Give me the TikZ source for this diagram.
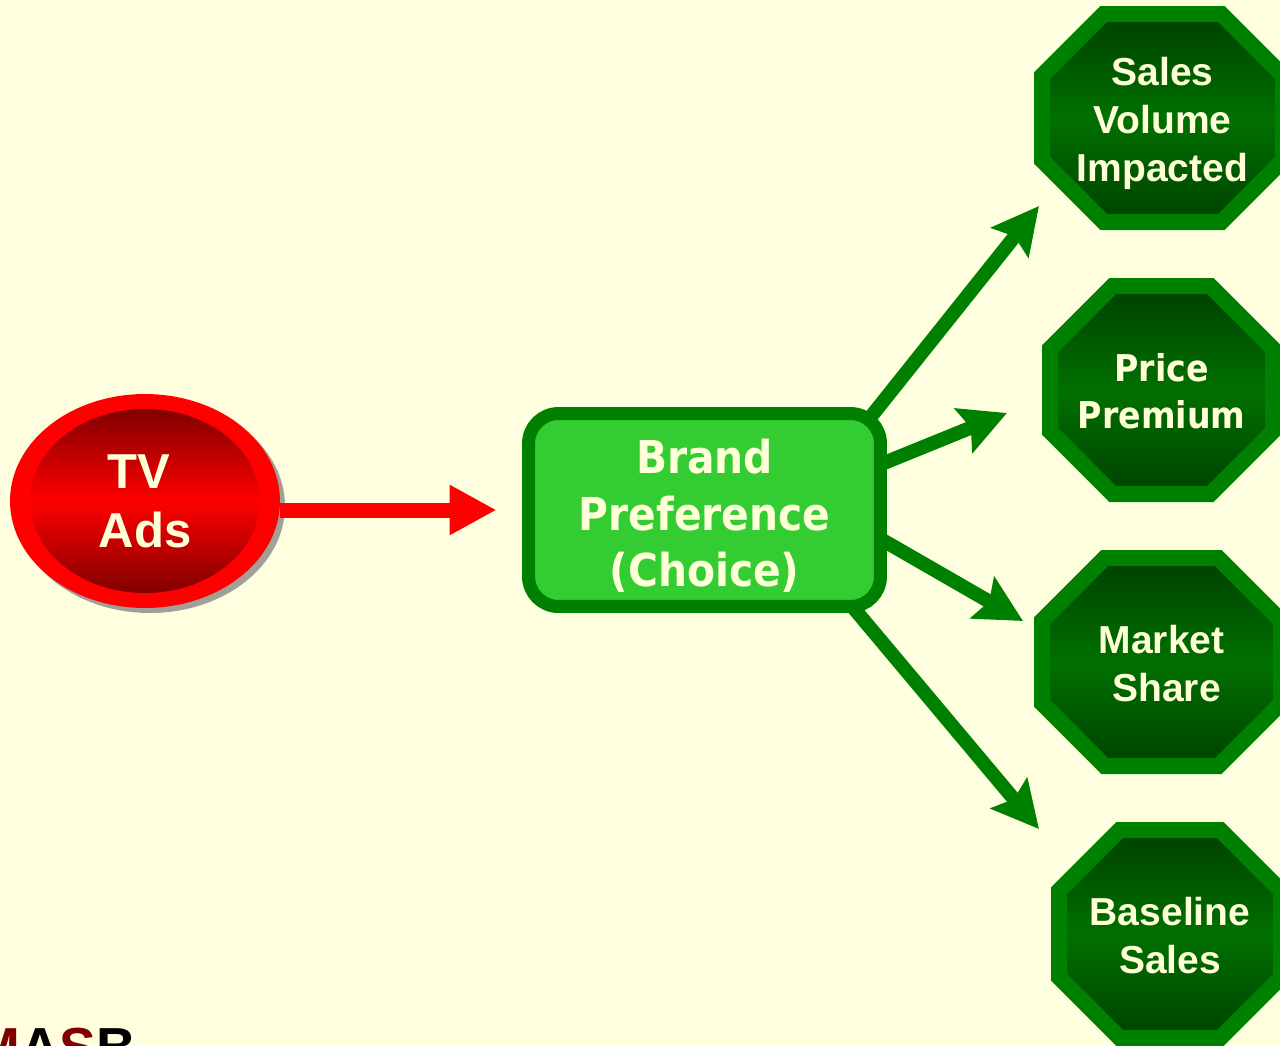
\documentclass[tikz,border=0pt]{standalone}
\usepackage{fontspec}
\setmainfont{Liberation Sans}
\newfontfamily\dvsans[BoldFeatures={FakeStretch=0.9}]{DejaVu Sans}
\usetikzlibrary{arrows.meta,shapes.geometric,calc}
\definecolor{bgc}{HTML}{FFFFE0}
\definecolor{txt}{HTML}{FFFFD8}
\definecolor{dkgreen}{HTML}{008000}
\definecolor{ltgreen}{HTML}{33CC33}
\definecolor{octtop}{HTML}{004000}
\definecolor{octmid}{HTML}{007000}
\definecolor{octbot}{HTML}{004200}
\definecolor{dkred}{HTML}{800000}
\definecolor{shadowc}{HTML}{A0A098}
\pgfdeclarelayer{bgl}\pgfdeclarelayer{arrl}\pgfsetlayers{bgl,arrl,main}
\newcommand\octdraw[5]{%
 \pgfmathsetmacro\oA{#3-8}\pgfmathsetmacro\oB{#4-8}\pgfmathsetmacro\oC{#5-3.3}%
 \pgfmathsetmacro\oxl{#1-\oA}\pgfmathsetmacro\oxr{#1+\oA}%
 \pgfmathsetmacro\oxa{#1-\oA+\oC}\pgfmathsetmacro\oxb{#1+\oA-\oC}%
 \pgfmathsetmacro\oyt{#2-\oB}\pgfmathsetmacro\oyb{#2+\oB}%
 \pgfmathsetmacro\oya{#2-\oB+\oC}\pgfmathsetmacro\oyc{#2+\oB-\oC}%
 \shade[octshade] (\oxa,\oyt) -- (\oxb,\oyt) -- (\oxr,\oya) -- (\oxr,\oyc) -- (\oxb,\oyb) -- (\oxa,\oyb) -- (\oxl,\oyc) -- (\oxl,\oya) -- cycle;
 \draw[octborder] (\oxa,\oyt) -- (\oxb,\oyt) -- (\oxr,\oya) -- (\oxr,\oyc) -- (\oxb,\oyb) -- (\oxa,\oyb) -- (\oxl,\oyc) -- (\oxl,\oya) -- cycle;
}
\begin{document}
\begin{tikzpicture}[x=0.02cm,y=-0.02cm,
  octshade/.style={top color=octtop, bottom color=octbot, middle color=octmid},
  octborder/.style={draw=dkgreen, line width=0.32cm, line join=miter},
  octtext/.style={text=txt, font=\bfseries\fontsize{22.2}{27.3}\selectfont, align=center, inner sep=0},
  pptext/.style={text=txt, font=\dvsans\bfseries\fontsize{21}{26.7}\selectfont, align=center, inner sep=0},
  tvtext/.style={text=txt, font=\bfseries\fontsize{27.9}{33.6}\selectfont, align=center},
  bpbox/.style={rectangle, rounded corners=0.6cm, draw=dkgreen, fill=ltgreen, line width=0.26cm,
     minimum width=7.04cm, minimum height=3.86cm, inner sep=0},
  bptext/.style={text=txt, align=center, inner sep=0, font=\dvsans\bfseries\fontsize{25.8}{32.2}\selectfont},
  redarr/.style={draw=red, line width=0.3cm, -{Triangle[length=0.94cm,width=0.94cm]}, shorten >=0.51cm},
  grarr/.style={draw=dkgreen, line width=0.28cm, -{Stealth[length=0.93cm,width=0.94cm,inset=0.15cm]}}]
\begin{pgfonlayer}{bgl}\fill[bgc] (0,0) rectangle (1280,1045);\end{pgfonlayer}
\useasboundingbox (0,0) rectangle (1280,1045);
\clip (0,0) rectangle (1280,1045);
% TV Ads ellipse
\fill[shadowc] (150,506) ellipse [x radius=2.7cm, y radius=2.14cm];
\fill[red] (145,501) ellipse [x radius=2.7cm, y radius=2.14cm];
\shade[top color=dkred, bottom color=dkred, middle color=red] (145,501) ellipse [x radius=2.3cm, y radius=1.84cm];
\node[ellipse, minimum width=5.4cm, minimum height=4.28cm, inner sep=0, tvtext] (tv) at (145,501) {TV\hspace*{0.24cm}\\Ads};
% central box
\node[bpbox] (box) at (704.5,510) {};
\node[bptext] (bptxt) at ($(box.center)+(0,6)$) {Brand\\Preference\\(Choice)};
\draw[redarr] (tv.east |- box.west) -- (box.west);
% octagons
\octdraw{1162.5}{118}{128.5}{112}{65}
\octdraw{1161.5}{390}{119.5}{112}{66}
\octdraw{1161.5}{662}{127.5}{112}{66}
\octdraw{1170}{934}{119}{112}{64}
\node[octtext] (sv) at (1162.5,123) {Sales\\Volume\\Impacted};
\node[pptext] (pp) at (1161.5,391) {Price\\Premium};
\node[octtext] (ms) at (1161.5,664) {Market\\\hspace*{0.2cm}Share};
\node[octtext] (bs) at (1170,936) {Baseline\\Sales};
% arrow tips
\coordinate (t1) at (1039,206);
\coordinate (t2) at (1007,413);
\coordinate (t3) at (1023,621);
\coordinate (t4) at (1039,829);
\begin{pgfonlayer}{arrl}
\draw[grarr] ($(box.north east)+(-29.5,26.5)$) -- (t1);
\draw[grarr] ($(box.east)+(-10.5,-44)$) -- (t2);
\draw[grarr] ($(box.east)+(-10.5,26.6)$) -- (t3);
\draw[grarr] ($(box.south east)+(-51.5,-26.5)$) -- (t4);
\end{pgfonlayer}
% logo (cut by the lower edge)
\node[anchor=base west, inner sep=0, font=\bfseries\fontsize{31.3}{31.3}\selectfont] (masb) at (-26,1066) {\textcolor{dkred}{M}A\textcolor{dkred}{S}B};
\end{tikzpicture}
\end{document}
